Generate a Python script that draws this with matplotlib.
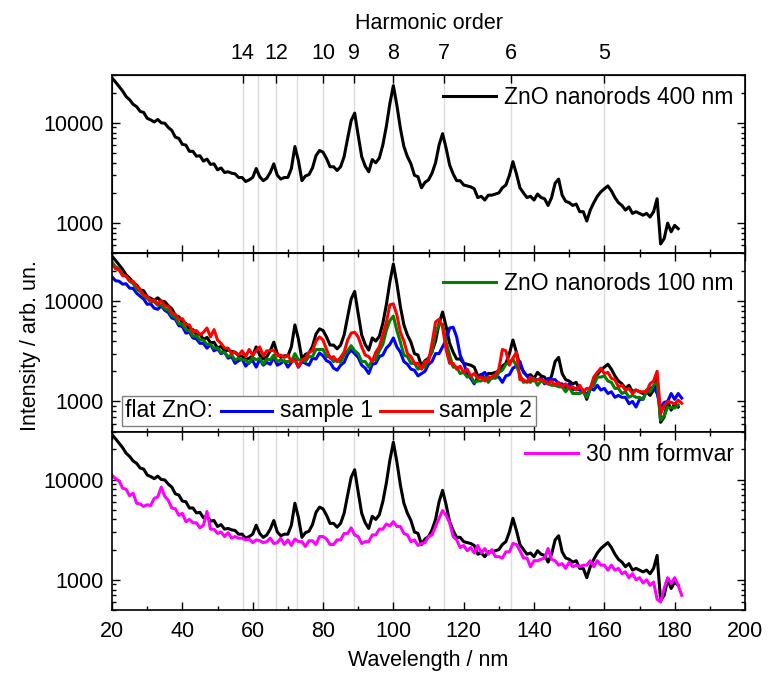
import numpy as np
import matplotlib
matplotlib.use('Agg')
import matplotlib.pyplot as plt
from matplotlib.lines import Line2D
from matplotlib.offsetbox import AnchoredOffsetbox, HPacker, TextArea, DrawingArea
from matplotlib.ticker import FixedLocator, LogLocator, NullFormatter, MultipleLocator, FuncFormatter, NullLocator

plt.rcParams['font.family'] = ['Liberation Sans', 'DejaVu Sans']

# spectra, one value per nm starting at 20 nm
nanorods_400 = [28000, 25500, 23000, 20800, 18300, 17000, 15300, 14500, 13000, 12700,
                11100, 10700, 10200, 10800, 10000, 9900, 9000, 8400, 7200, 7000,
                6100, 6000, 5200, 5200, 4650, 4700, 4150, 4350, 3850, 3900,
                3400, 3550, 3200, 3250, 3150, 3100, 2850, 2850, 2600, 2700,
                2850, 3500, 2900, 2650, 2800, 3200, 3900, 3000, 2750, 2850,
                2850, 3500, 5800, 4200, 2650, 2950, 3050, 3550, 4700, 5300,
                5100, 4400, 3650, 3650, 3350, 3650, 4600, 7000, 10500, 12500,
                7500, 4600, 3700, 3250, 4300, 4000, 4450, 6000, 9200, 15500,
                23500, 15000, 8800, 5800, 4600, 3900, 3000, 2900, 2250, 2550,
                2700, 3150, 4000, 6000, 7800, 5600, 3800, 3100, 2650, 2650,
                2400, 2350, 2300, 2200, 1800, 1850, 1700, 1900, 1900, 1950,
                2000, 2250, 2400, 3000, 4100, 3100, 2250, 2000, 1800, 1850,
                1700, 1950, 1800, 1750, 1500, 1800, 2500, 2750, 1900, 1650,
                1600, 1500, 1550, 1300, 1300, 1050, 1350, 1600, 1850, 2050,
                2200, 2350, 2100, 1800, 1600, 1500, 1350, 1450, 1250, 1300,
                1250, 1200, 1250, 1150, 1300, 1750, 620, 700, 1000, 820,
                950, 880]

flat_sample1 = [17500, 16000, 15800, 14800, 14900, 13500, 13400, 12000, 11200, 10500,
                9300, 9400, 8500, 8300, 9000, 8100, 7700, 6800, 6600, 5700,
                5600, 4800, 4900, 4300, 4200, 3800, 3800, 3400, 3700, 3200,
                3350, 3000, 3100, 2700, 2800, 2400, 2550, 2650, 2250, 2450,
                2550, 2200, 2650, 2300, 2450, 2350, 2750, 2300, 2400, 2550,
                2200, 2450, 2650, 2200, 2500, 2400, 2300, 2700, 2650, 3050,
                2850, 2550, 2450, 2150, 2050, 2300, 2450, 2950, 3250, 3000,
                2750, 2300, 2150, 1900, 2350, 2400, 2800, 2900, 3400, 3700,
                4300, 3500, 3100, 2500, 2350, 2100, 2050, 1800, 1900, 2000,
                2350, 2500, 3000, 3000, 3500, 4100, 5400, 5500, 4400, 2900,
                2400, 1900, 1700, 1500, 1750, 1850, 1950, 1700, 1700, 1750,
                1750, 1550, 1800, 1850, 2150, 2250, 2500, 1950, 1800, 1600,
                1650, 1650, 1700, 1500, 1700, 1650, 1650, 1500, 1500, 1350,
                1500, 1300, 1350, 1300, 1300, 1150, 1350, 1300, 1450, 1300,
                1350, 1200, 1250, 1100, 1150, 1100, 1100, 950, 1000, 880,
                1050, 1050, 1300, 1350, 1400, 1200, 860, 980, 1000, 1200,
                1050, 1200, 1080]

flat_sample2 = [23500, 21000, 20500, 18000, 17800, 16000, 15800, 14000, 13000, 11500,
                11200, 10000, 10300, 9400, 10100, 9000, 8900, 7700, 7400, 6600,
                6700, 5800, 5800, 4900, 5100, 4600, 4900, 5400, 4400, 5200,
                4100, 3800, 3400, 3400, 3000, 3100, 2900, 3200, 2800, 3300,
                2900, 3200, 3500, 2850, 3200, 3200, 3250, 2850, 2900, 2750,
                2900, 2500, 2600, 2200, 2600, 2700, 3100, 3200, 4000, 4400,
                4100, 3300, 2700, 2800, 2500, 2750, 3100, 4100, 4800, 4900,
                4400, 3500, 2900, 2800, 2500, 3100, 3500, 4600, 6100, 9200,
                9400, 7300, 4900, 4000, 3000, 2800, 2400, 2400, 2100, 2500,
                2500, 3800, 6200, 6600, 5500, 3300, 2400, 2400, 2100, 2250,
                1950, 2100, 1800, 1900, 1700, 1750, 1600, 1750, 1750, 1850,
                2100, 3300, 3200, 2300, 2700, 3100, 1650, 1650, 1550, 1750,
                1600, 1650, 1650, 1600, 1500, 1600, 1450, 1550, 1400, 1500,
                1350, 1400, 1300, 1450, 1250, 1350, 1350, 1750, 1950, 2150,
                1900, 1950, 1700, 1650, 1400, 1450, 1300, 1350, 1200, 1300,
                1250, 1250, 1250, 1500, 1600, 2000, 760, 900, 1000, 980,
                940, 1030, 960]

nanorods_100 = [24500, 22000, 21000, 18500, 17800, 15800, 15000, 13200, 12500, 11200,
                10700, 9800, 9900, 9100, 9200, 8400, 8200, 7200, 6900, 6000,
                5900, 5200, 5100, 4500, 4500, 4100, 4100, 3700, 3700, 3400,
                3400, 3100, 3100, 2800, 2900, 2600, 2700, 2600, 2600, 2400,
                2750, 2600, 2700, 2350, 2650, 2600, 2900, 2500, 2600, 2500,
                2500, 2500, 3000, 2600, 2600, 2500, 2800, 2800, 3300, 3300,
                3300, 2800, 2800, 2500, 2600, 2450, 2900, 3200, 3600, 3200,
                3000, 2500, 2500, 2200, 2600, 2600, 3200, 3700, 5100, 6400,
                7100, 5100, 3900, 2900, 2800, 2400, 2400, 2100, 2200, 2200,
                2700, 3100, 4900, 5900, 5900, 3900, 2900, 2200, 2200, 1900,
                1950, 1750, 1800, 1550, 1600, 1600, 1750, 1550, 1750, 1700,
                1950, 2050, 2350, 2450, 2650, 2250, 1850, 1550, 1600, 1550,
                1700, 1450, 1600, 1550, 1500, 1450, 1450, 1400, 1400, 1250,
                1400, 1200, 1200, 1200, 1250, 1100, 1350, 1450, 1750, 1750,
                1800, 1600, 1550, 1350, 1350, 1200, 1250, 1100, 1150, 1100,
                1100, 1050, 1250, 1250, 1450, 1550, 650, 720, 880, 870,
                860, 920]

formvar_30 = [11000, 10200, 9700, 8200, 8000, 6900, 7300, 5800, 5700, 5400,
              5600, 5500, 6500, 6700, 8400, 6800, 6200, 5200, 5100, 4400,
              4600, 3800, 4000, 3700, 3700, 3300, 3500, 4800, 3200, 3200,
              2900, 3000, 2700, 2950, 2600, 2700, 2600, 2600, 2500, 2550,
              2350, 2500, 2450, 2350, 2400, 2600, 2300, 2350, 2600, 2250,
              2500, 2200, 2550, 2400, 2400, 2150, 2450, 2450, 2250, 2700,
              2700, 2550, 2250, 2250, 2500, 2500, 2900, 2900, 3300, 2800,
              2700, 2300, 2400, 2400, 2800, 2800, 3200, 3200, 3600, 3450,
              3800, 3400, 3400, 2900, 2800, 2400, 2500, 2200, 2300, 2350,
              2700, 2800, 3400, 4100, 4900, 4400, 3700, 2700, 2500, 2100,
              2200, 1950, 2100, 1850, 2200, 1850, 2050, 1800, 2000, 1700,
              1700, 1650, 1900, 1900, 2300, 2250, 1950, 1650, 1650, 1350,
              1550, 1550, 1600, 1650, 2050, 1600, 1550, 1400, 1450, 1300,
              1500, 1350, 1400, 1350, 1400, 1400, 1550, 1350, 1550, 1400,
              1400, 1250, 1400, 1250, 1300, 1150, 1200, 1050, 1150, 1000,
              1050, 930, 1000, 880, 950, 640, 600, 820, 1050, 920,
              1050, 880, 700]

start_nm = 20
fundamental_nm = 800
harmonic_lines = [5, 6, 7, 8, 9, 10, 11, 12, 13, 14]
harmonic_labels = [14, 12, 10, 9, 8, 7, 6, 5]

fs = 15.5
lfs = 16.5
lw = 2.2


def wl(vals):
    return np.arange(start_nm, start_nm + len(vals))


fig = plt.figure(figsize=(7.71, 6.78), dpi=100)
axs = fig.subplots(3, 1, sharex=True, gridspec_kw=dict(hspace=0))
fig.subplots_adjust(left=0.1453, right=0.9663, bottom=0.1003, top=0.8894)

for i, ax in enumerate(axs):
    ax.set_yscale('log')
    ax.set_ylim(500, 30000)
    ax.set_xlim(20, 200)
    for n in harmonic_lines:
        ax.axvline(fundamental_nm / n, color='#dcdcdc', lw=1.0, zorder=0)
    ax.yaxis.set_major_locator(FixedLocator([1000, 10000]))
    ax.yaxis.set_major_formatter(FuncFormatter(lambda v, p: '%d' % v))
    ax.yaxis.set_minor_locator(LogLocator(base=10, subs=np.arange(2, 10)))
    ax.yaxis.set_minor_formatter(NullFormatter())
    ax.xaxis.set_major_locator(MultipleLocator(20))
    ax.xaxis.set_minor_locator(MultipleLocator(10))
    ax.tick_params(which='both', direction='in', top=(i > 0), right=True,
                   labelsize=fs, width=1.0)
    ax.tick_params(which='major', length=6)
    ax.tick_params(which='minor', length=3)
    ax.tick_params(axis='x', pad=8)
    ax.tick_params(axis='y', pad=6)
    for s in ax.spines.values():
        s.set_linewidth(1.2)

# top panel
ax = axs[0]
ax.plot(wl(nanorods_400), nanorods_400, color='black', lw=lw, label='ZnO nanorods 400 nm')
ax.legend(loc='upper right', frameon=False, fontsize=lfs, handlelength=2.3,
          handletextpad=0.35, borderaxespad=0.1)

axh = ax.twiny()
axh.set_xlim(20, 200)
axh.set_xticks([fundamental_nm / n for n in harmonic_labels])
axh.set_xticklabels([str(n) for n in harmonic_labels])
axh.xaxis.set_minor_locator(NullLocator())
axh.tick_params(direction='in', length=6, width=1.0, labelsize=fs, pad=8)
axh.set_xlabel('Harmonic order', fontsize=fs, labelpad=10)

# middle panel
ax = axs[1]
ax.plot(wl(nanorods_400), nanorods_400, color='black', lw=lw)
ax.plot(wl(flat_sample1), flat_sample1, color='#0000ff', lw=lw)
ax.plot(wl(nanorods_100), nanorods_100, color='#008000', lw=lw, label='ZnO nanorods 100 nm')
ax.plot(wl(flat_sample2), flat_sample2, color='#ff0000', lw=lw)
ax.legend(handles=[ax.lines[-2]], loc='upper right', bbox_to_anchor=(1, 0.96),
          frameon=False, fontsize=lfs, handlelength=2.3, handletextpad=0.35,
          borderaxespad=0.1)


def sample_line(color):
    da = DrawingArea(37, 10, 0, 0)
    da.add_artist(Line2D([0, 37], [5, 5], color=color, lw=lw))
    return da


items = [TextArea('flat ZnO:', textprops=dict(size=lfs)),
         sample_line('#0000ff'),
         TextArea('sample 1', textprops=dict(size=lfs)),
         sample_line('#ff0000'),
         TextArea('sample 2', textprops=dict(size=lfs))]
box = HPacker(children=items, align='center', pad=0, sep=5.5)
anch = AnchoredOffsetbox(loc='lower left', child=box, pad=0.15, borderpad=0,
                         frameon=True, bbox_to_anchor=(0.015, 0.034),
                         bbox_transform=ax.transAxes, prop=dict(size=lfs))
anch.patch.set_edgecolor('#808080')
anch.patch.set_linewidth(1.0)
anch.patch.set_boxstyle('square', pad=0)
ax.add_artist(anch)

# bottom panel
ax = axs[2]
ax.plot(wl(nanorods_400), nanorods_400, color='black', lw=lw)
ax.plot(wl(formvar_30), formvar_30, color='#ff00ff', lw=lw, label='30 nm formvar')
ax.legend(handles=[ax.lines[-1]], loc='upper right', frameon=False, fontsize=lfs,
          handlelength=2.3, handletextpad=0.35, borderaxespad=0.1)
ax.set_xlabel('Wavelength / nm', fontsize=fs, labelpad=6)

fig.text(0.039, 0.49, 'Intensity / arb. un.', rotation=90, ha='center', va='center',
         fontsize=fs)

fig.savefig('out.png', dpi=100)
